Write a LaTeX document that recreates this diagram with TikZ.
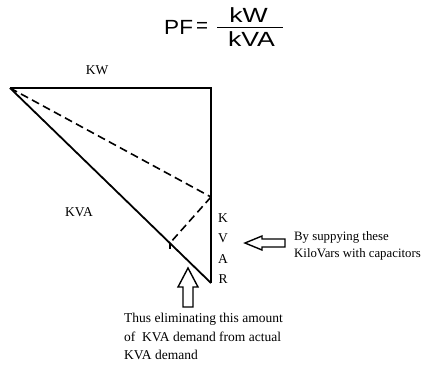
\documentclass[tikz,border=0pt]{standalone}
\usepackage{fontspec}
\setmainfont{Liberation Serif}
\newfontfamily\arialf{Liberation Sans}
\begin{document}
\begin{tikzpicture}[x=1pt,y=-1pt,
  lbl/.style={inner sep=0pt,font=\fontsize{13.5}{15}\selectfont},
  pff/.style={inner sep=0pt,font=\arialf\fontsize{20.5}{22}\selectfont},
  side/.style={line width=1.8pt},
  dsh/.style={line width=1.6pt,dash pattern=on 8pt off 4.5pt},
  hollow/.style={draw,line width=1.4pt,fill=white,line join=miter}]
\useasboundingbox (0,0) rectangle (425,367);
% formula
\node[pff,anchor=west,xscale=1.1] (pf) at (164,27.5) {PF};
\node[pff,anchor=west] (eq) at (196,27) {=};
\node[pff,xscale=1.3] (kw) at (248.5,15.5) {kW};
\node[pff,xscale=1.3] (kva) at (251.5,39.5) {kVA};
\coordinate (barl) at (217,27.5);
\coordinate (barr) at (283,27.5);
\draw[line width=1pt] (barl) -- (barr);
% triangle
\coordinate (A) at (10,88);
\coordinate (B) at (211,88);
\coordinate (C) at (211,283);
\coordinate (D) at (211,197);
\coordinate (F) at (170,243);
\draw[side,line join=miter] (A) -- (B) -- (C);
\draw[side] (A) -- (C);
\draw[dsh] (A) -- (D);
\draw[dsh] (D) -- (F);
\draw[line width=1.4pt] (F) -- ++(0,6);
% labels
\node[lbl] (kwl) at (97,70) {KW};
\node[lbl] (kval) at (79,212) {KVA};
\node[lbl] (k1) at (223,218) {K};
\node[lbl] (k2) at (223,238) {V};
\node[lbl] (k3) at (223,259) {A};
\node[lbl] (k4) at (223,279) {R};
% left hollow arrow
\draw[hollow] (245,243) -- (262,236) -- (262,239) -- (285,239) -- (285,247) -- (262,247) -- (262,250) -- cycle;
% up hollow arrow
\draw[hollow] (188,268) -- (198,287) -- (193,287) -- (193,307) -- (183,307) -- (183,287) -- (178,287) -- cycle;
% texts
\node[lbl,anchor=west,align=left,font=\fontsize{12.8}{17.5}\selectfont] (cap) at (294,246) {By suppying these\\KiloVars with capacitors};
\node[lbl,anchor=north west,align=left,font=\fontsize{13.5}{18.5}\selectfont] (thus) at (124,313) {Thus eliminating this amount\\of\ \ KVA demand from actual\\KVA demand};
\end{tikzpicture}
\end{document}
